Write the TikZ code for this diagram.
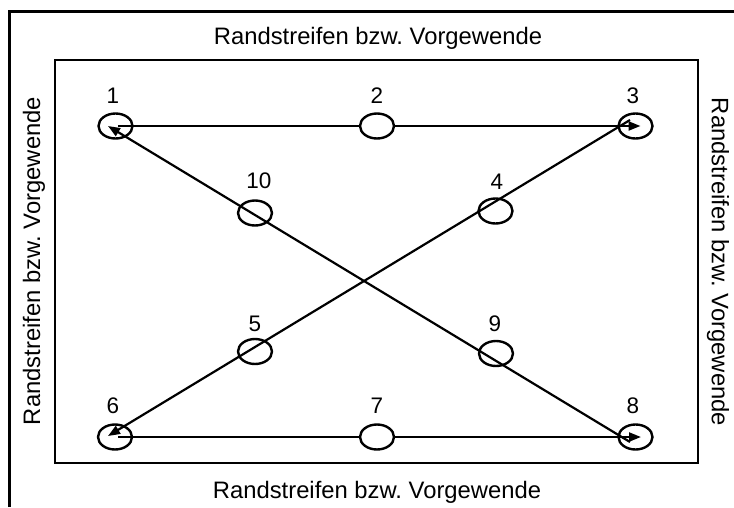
\documentclass[tikz,border=0pt]{standalone}
\usepackage{fontspec}
\setmainfont{Liberation Sans}
\frenchspacing
\usetikzlibrary{arrows.meta,shapes.geometric,backgrounds}
\begin{document}
\begin{tikzpicture}[x=1pt,y=-1pt,
  frame/.style={line width=2.4pt},
  spot/.style={ellipse,draw,line width=2.4pt,minimum width=34pt,minimum height=25pt,inner sep=0pt},
  spotw/.style={spot,fill=white},
  num/.style={font=\fontsize{22.5}{26}\selectfont,inner sep=0pt},
  edge/.style={font=\fontsize{23.8}{28}\selectfont,inner sep=0pt},
  path/.style={line width=2.2pt,-{Triangle[length=12pt,width=9pt]}}]
\useasboundingbox (0,0) rectangle (734,507);
% outer frame (clipped at right and bottom)
\draw[frame] (9.5,507) -- (9.5,11.5) -- (734,11.5);
% inner field
\draw[frame] (55,60) rectangle (698,463);
% edge labels
\node[edge] (top) at (378,38) {Randstreifen bzw. Vorgewende};
\node[edge] (bot) at (377,492) {Randstreifen bzw. Vorgewende};
\node[edge,rotate=90] (lft) at (34,261) {Randstreifen bzw. Vorgewende};
\node[edge,rotate=-90] (rgt) at (718,262) {Randstreifen bzw. Vorgewende};
% spots
\node[spot] (p1) at (115.5,126) {};
\node[spotw] (p2) at (377,126) {};
\node[spot] (p3) at (635.5,126) {};
\node[spot] (p4) at (495.5,211) {};
\node[spot] (p5) at (255,351.5) {};
\node[spot] (p6) at (115,437) {};
\node[spotw] (p7) at (377,437) {};
\node[spot] (p8) at (635.5,437) {};
\node[spot] (p9) at (496,353.5) {};
\node[spot] (p10) at (255,213) {};
% numbers
\node[num] (n1) at (113,96) {1};
\node[num] (n2) at (377,96) {2};
\node[num] (n3) at (633,96) {3};
\node[num] (n4) at (497,182) {4};
\node[num] (n5) at (255,324) {5};
\node[num] (n6) at (113,406) {6};
\node[num] (n7) at (377,406) {7};
\node[num] (n8) at (633,406) {8};
\node[num] (n9) at (495,324) {9};
\node[num] (n10) at (259,181) {10};
% route
\begin{scope}[on background layer]
\draw[path] ([xshift=2.5pt]p1.center) -- ([xshift=5pt]p3.center);
\draw[path] ([xshift=-5.5pt,yshift=6pt]p3.center) -- ([xshift=-7pt,yshift=1pt]p6.center);
\draw[path] ([xshift=3pt]p6.center) -- ([xshift=5.5pt]p8.center);
\draw[path] ([xshift=-5.5pt,yshift=-5pt]p8.center) -- ([xshift=-7.5pt]p1.center);
\end{scope}
\end{tikzpicture}
\end{document}
